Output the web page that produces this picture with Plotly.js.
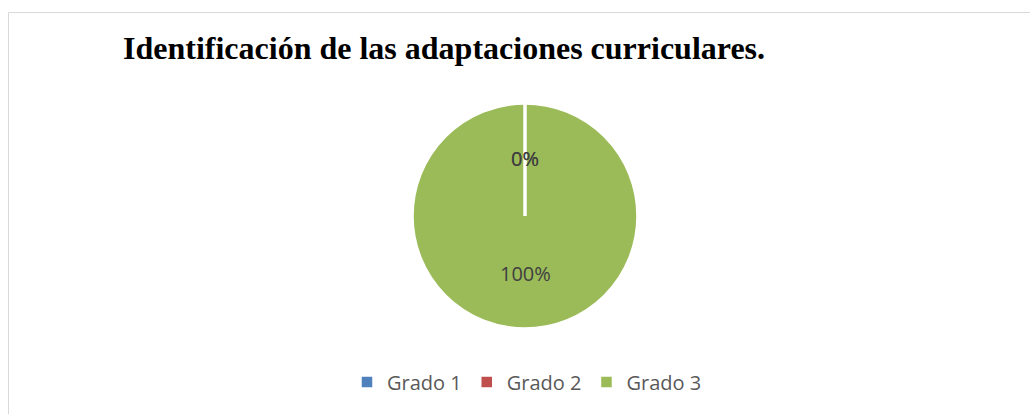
<!DOCTYPE html>
<html><head><meta charset="utf-8">
<script src="https://cdn.plot.ly/plotly-3.0.1.min.js"></script>
<style>html,body{margin:0;padding:0;background:#fff;}#chart{width:1030px;height:414px;}</style>
</head><body><div id="chart"></div>
<script>
const categories = ["Grado 1", "Grado 2", "Grado 3"];
const values = [0, 0, 100];
const colors = ["#4f81bd", "#c0504d", "#9bbb59"];
const chartTitle = "Identificación de las adaptaciones curriculares.";

const W = 1030, H = 414;
const cx = 525, cy = 216, R = 112;
const domX = [(cx - R) / W, (cx + R) / W];
const domY = [1 - (cy + R) / H, 1 - (cy - R) / H];

const total = values.reduce((a, b) => a + b, 0);
// data labels at mid-angle of each slice (clockwise from 12 o'clock)
const annotations = [];
let acc = 0;
values.forEach((v, i) => {
  const frac = v / total;
  const mid = (acc + frac / 2) * 2 * Math.PI;
  acc += frac;
  const rr = 0.51 * R;
  const px = cx + rr * Math.sin(mid);
  const py = cy - rr * Math.cos(mid);
  annotations.push({
    text: Math.round(frac * 100) + "%",
    xref: "paper", yref: "paper",
    x: px / W, y: 1 - py / H,
    xanchor: "center", yanchor: "middle",
    showarrow: false,
    font: {family: "Open Sans, sans-serif", size: 20, color: "#404040"}
  });
});
annotations.push({
  text: "<b>" + chartTitle + "</b>",
  xref: "paper", yref: "paper",
  x: 444 / W, y: 1 - 48 / H, xanchor: "center", yanchor: "middle",
  showarrow: false,
  font: {family: "Liberation Serif, Times New Roman, serif", size: 32, color: "#000"}
});

const shapes = [{
  type: "rect", xref: "paper", yref: "paper",
  x0: 8.5 / W, x1: 1.02, y0: -0.02, y1: 1 - 12.5 / H,
  line: {color: "#d9d9d9", width: 1}, fillcolor: "rgba(0,0,0,0)"
}];
// slice border lines for zero-value slices (at their start angle)
acc = 0;
values.forEach((v, i) => {
  const a = acc * 2 * Math.PI;
  if (v === 0) {
    shapes.push({
      type: "line", xref: "paper", yref: "paper",
      x0: cx / W, y0: 1 - cy / H,
      x1: (cx + R * Math.sin(a)) / W, y1: 1 - (cy - R * Math.cos(a)) / H,
      line: {color: "#ffffff", width: 3}
    });
  }
  acc += v / total;
});

const data = [{
  type: "pie",
  labels: categories,
  values: values,
  marker: {colors: colors, line: {color: "#ffffff", width: 1.5}},
  sort: false,
  direction: "clockwise",
  rotation: 0,
  textinfo: "none",
  hoverinfo: "label+percent",
  domain: {x: domX, y: domY}
}];

const layout = {
  width: W, height: H,
  margin: {l: 0, r: 0, t: 0, b: 0},
  paper_bgcolor: "#ffffff",
  showlegend: true,
  legend: {
    orientation: "h", x: 347 / W, xanchor: "left", y: 1 - 382 / H, yanchor: "middle",
    font: {family: "Open Sans, sans-serif", size: 20, color: "#595959"},
    itemclick: false, itemdoubleclick: false, traceorder: "normal"
  },
  annotations: annotations,
  shapes: shapes
};
Plotly.newPlot("chart", data, layout, {displayModeBar: false, staticPlot: true});
</script></body></html>
